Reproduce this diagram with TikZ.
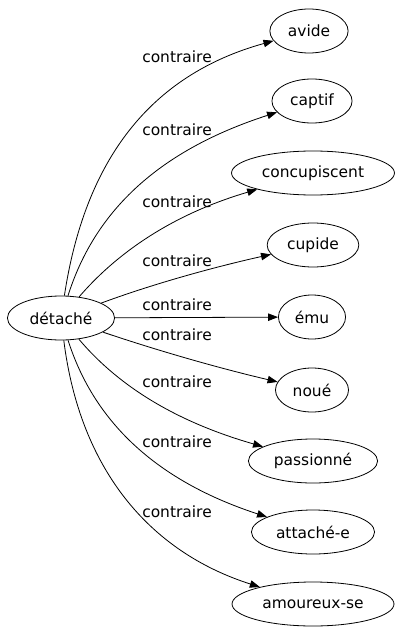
\documentclass[tikz,border=0pt]{standalone}
\usepackage{fontspec}
\setmainfont{DejaVu Sans}
\usetikzlibrary{shapes.geometric,arrows.meta}

\tikzset{
  mot/.style={draw, ellipse, inner xsep=4.9pt, inner ysep=0pt, minimum height=33pt, line width=0.6pt, font=\fontsize{11.6}{13.5}\selectfont},
  lien/.style={-{Triangle[length=7.5pt,width=5.6pt]}, line width=0.6pt},
  etiq/.style={inner sep=0.75pt, font=\fontsize{11.6}{13.5}\selectfont}
}

\begin{document}
\begin{tikzpicture}[x=0.75pt,y=0.75pt,yscale=-1,xscale=1]
    \path[use as bounding box] (0,0) rectangle (400,635);

    %Ellipses
    \node [mot] (detache) at (61,318) {détaché};
    \node [mot] (avide) at (309,31) {avide};
    \node [mot] (captif) at (312,101) {captif};
    \node [mot] (concupiscent) at (313,173) {concupiscent};
    \node [mot] (cupide) at (313,245) {cupide};
    \node [mot] (emu) at (312,317) {ému};
    \node [mot] (noue) at (312,390) {noué};
    \node [mot] (passionne) at (313,461) {passionné};
    \node [mot] (attachee) at (313,532) {attaché-e};
    \node [mot] (amoureuxse) at (313,604) {amoureux-se};

    %Curves
    \draw [lien] (detache) .. controls (85,160) and (150,75) .. (avide);
    \draw [lien] (detache) .. controls (95,210) and (160,150) .. (captif);
    \draw [lien] (detache) .. controls (115,255) and (170,215) .. (concupiscent);
    \draw [lien] (detache) .. controls (150,285) and (210,268) .. (cupide);
    \draw [lien] (detache) -- (emu);
    \draw [lien] (detache) .. controls (150,348) and (210,366) .. (noue);
    \draw [lien] (detache) .. controls (115,382) and (170,420) .. (passionne);
    \draw [lien] (detache) .. controls (95,425) and (160,482) .. (attachee);
    \draw [lien] (detache) .. controls (80,470) and (150,552) .. (amoureuxse);

    % Text Node
    \node [etiq] (c1) at (177,57) {contraire};
    % Text Node
    \node [etiq] (c2) at (177,130) {contraire};
    % Text Node
    \node [etiq] (c3) at (177,202) {contraire};
    % Text Node
    \node [etiq] (c4) at (177,261) {contraire};
    % Text Node
    \node [etiq] (c5) at (177,305) {contraire};
    % Text Node
    \node [etiq] (c6) at (177,335) {contraire};
    % Text Node
    \node [etiq] (c7) at (177,382) {contraire};
    % Text Node
    \node [etiq] (c8) at (177,442) {contraire};
    % Text Node
    \node [etiq] (c9) at (177,512) {contraire};

\end{tikzpicture}
\end{document}
